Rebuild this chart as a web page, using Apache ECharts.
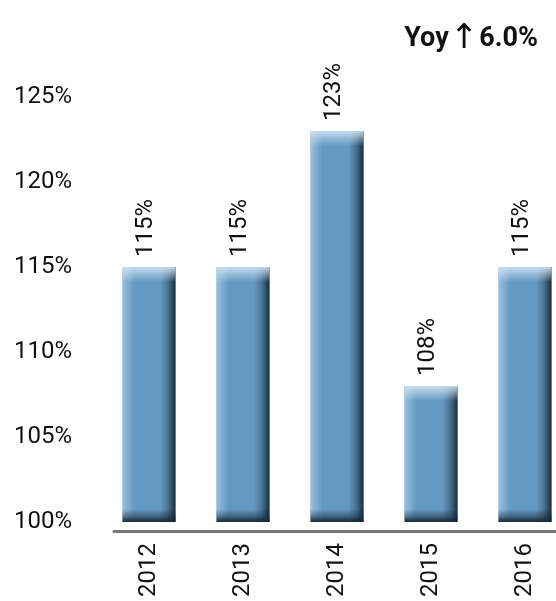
<!DOCTYPE html>
<html>
<head>
<meta charset="utf-8">
<style>
  html, body { margin: 0; padding: 0; background: #fff; }
  #chart { width: 556px; height: 601px; }
</style>
<script src="https://cdn.jsdelivr.net/npm/echarts@6/dist/echarts.min.js"></script>
</head>
<body>
<div id="chart"></div>
<script>
// Yearly ratio, in percent
const years = ['2012', '2013', '2014', '2015', '2016'];
const ratios = [115, 115, 123, 108, 115];
const yoyText = '6.0%';

const chart = echarts.init(document.getElementById('chart'), null, { renderer: 'canvas' });

const BAR_W = 53;

// Bevelled bar: flat fill plus light/dark edge gradients, value written vertically above it
function renderBar(params, api) {
  const idx = api.value(0);
  const v = api.value(1);
  const top = api.coord([idx, v]);
  const base = api.coord([idx, 100]);
  const x0 = top[0] - BAR_W / 2;
  const y0 = top[1];
  const h = base[1] - top[1];
  const lg = (x, y, x2, y2, stops) => ({ type: 'linear', x, y, x2, y2, colorStops: stops });
  return {
    type: 'group',
    children: [
      { type: 'rect', shape: { x: x0, y: y0, width: BAR_W, height: h }, style: { fill: '#6499c1' } },
      // left highlight
      { type: 'rect', shape: { x: x0, y: y0, width: 12, height: h },
        style: { fill: lg(0, 0, 1, 0, [{ offset: 0, color: 'rgba(170,205,230,0.75)' }, { offset: 1, color: 'rgba(170,205,230,0)' }]) } },
      // right shade
      { type: 'rect', shape: { x: x0 + BAR_W - 15, y: y0, width: 15, height: h },
        style: { fill: lg(0, 0, 1, 0, [{ offset: 0, color: 'rgba(20,40,58,0)' }, { offset: 0.5, color: 'rgba(20,40,58,0.35)' }, { offset: 1, color: 'rgba(20,40,58,0.95)' }]) } },
      // top highlight
      { type: 'rect', shape: { x: x0, y: y0, width: BAR_W, height: 15 },
        style: { fill: lg(0, 0, 0, 1, [{ offset: 0, color: 'rgba(210,228,242,0.9)' }, { offset: 1, color: 'rgba(210,228,242,0)' }]) } },
      // bottom shade
      { type: 'rect', shape: { x: x0, y: y0 + h - 13, width: BAR_W, height: 13 },
        style: { fill: lg(0, 0, 0, 1, [{ offset: 0, color: 'rgba(18,35,50,0)' }, { offset: 0.5, color: 'rgba(18,35,50,0.4)' }, { offset: 1, color: 'rgba(18,35,50,0.95)' }]) } },
      // value label
      { type: 'text', x: top[0] - 3, y: y0 - 10, rotation: Math.PI / 2,
        style: { text: v + '%', font: '24px Roboto', fill: '#111', align: 'left', verticalAlign: 'middle' } }
    ]
  };
}

const option = {
  animation: false,
  title: {
    text: '{a|Yoy}{b|↑}{a|' + yoyText + '}',
    right: 18,
    top: 22,
    padding: 0,
    textStyle: {
      rich: {
        a: { fontFamily: 'Roboto', fontWeight: 'bold', fontSize: 27, color: '#111' },
        b: { fontFamily: 'DejaVu Sans', fontWeight: 'normal', fontSize: 34, color: '#111', padding: [0, 1, 0, 1] }
      }
    }
  },
  grid: [
    { left: 102, width: 470, top: 97, bottom: 79, outerBoundsMode: 'none', containLabel: false },
    { left: 114, right: 0, top: 97, bottom: 79, outerBoundsMode: 'none', containLabel: false }
  ],
  xAxis: [
    {
      type: 'category',
      data: years,
      gridIndex: 0,
      axisLine: { show: false },
      axisTick: { show: false },
      axisLabel: { rotate: 90, margin: 21, fontFamily: 'Roboto', fontSize: 24, color: '#111' }
    },
    {
      type: 'value',
      gridIndex: 1,
      offset: 9,
      axisLine: { show: true, onZero: false, lineStyle: { color: '#777', width: 3 } },
      axisTick: { show: false },
      axisLabel: { show: false },
      splitLine: { show: false }
    }
  ],
  yAxis: [
    {
      type: 'value',
      gridIndex: 0,
      min: 100,
      max: 125,
      interval: 5,
      axisLine: { show: false },
      axisTick: { show: false },
      splitLine: { show: false },
      axisLabel: {
        formatter: '{value}%',
        align: 'left',
        margin: 88,
        fontFamily: 'Roboto',
        fontSize: 24,
        color: '#111'
      }
    },
    { type: 'value', gridIndex: 1, show: false }
  ],
  series: [
    {
      type: 'custom',
      xAxisIndex: 0,
      yAxisIndex: 0,
      clip: false,
      renderItem: renderBar,
      encode: { x: 0, y: 1 },
      data: ratios.map((v, i) => [i, v])
    }
  ]
};

chart.setOption(option);
</script>
</body>
</html>
